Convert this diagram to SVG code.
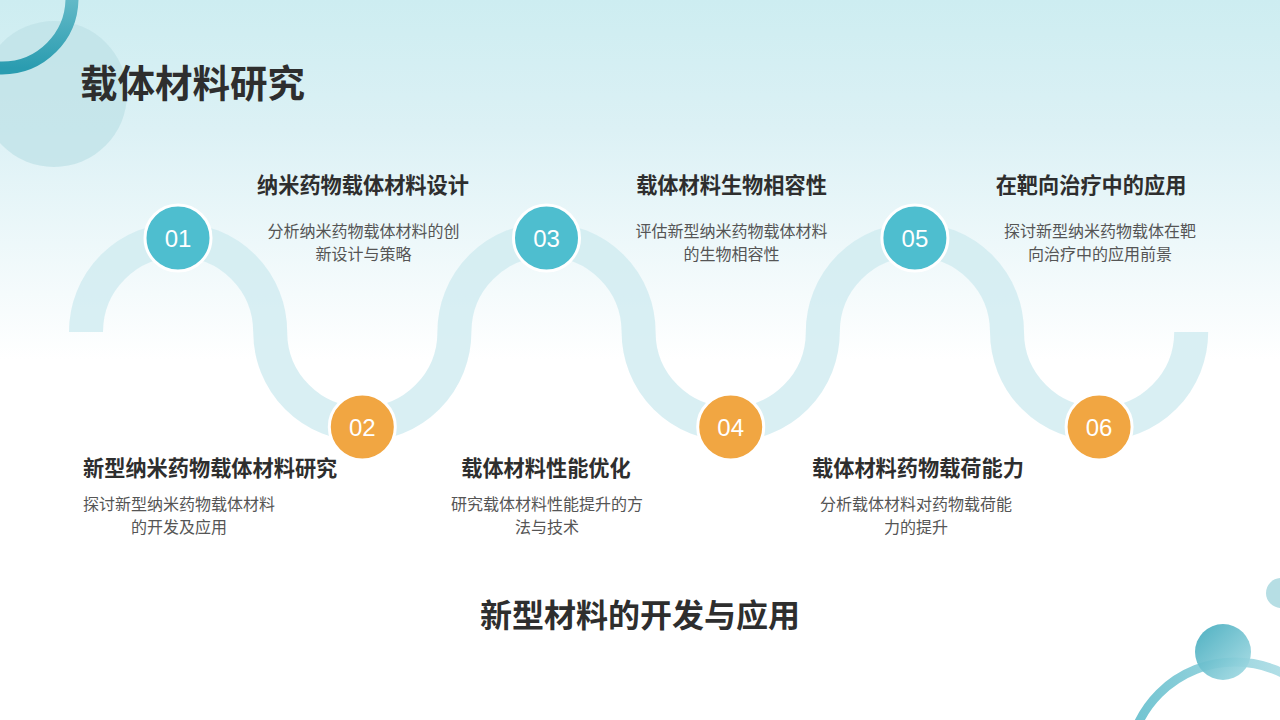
<svg xmlns="http://www.w3.org/2000/svg" width="1280" height="720" viewBox="0 0 1280 720">
  <defs>
    <linearGradient id="bg" x1="0" y1="0" x2="0" y2="1">
      <stop offset="0" stop-color="#cdedf1"/>
      <stop offset="0.18" stop-color="#dcf1f5"/>
      <stop offset="0.5" stop-color="#ffffff"/>
      <stop offset="1" stop-color="#ffffff"/>
    </linearGradient>
    <linearGradient id="ringTL" x1="0" y1="0" x2="0" y2="1">
      <stop offset="0" stop-color="#9fd8e0"/>
      <stop offset="1" stop-color="#2a9cb0"/>
    </linearGradient>
    <linearGradient id="ballBR" x1="0" y1="0" x2="1" y2="1">
      <stop offset="0" stop-color="#3fa9bc"/>
      <stop offset="1" stop-color="#a8dde5"/>
    </linearGradient>
    <linearGradient id="arcBR" x1="0" y1="0" x2="1" y2="0">
      <stop offset="0" stop-color="#5fbccb"/>
      <stop offset="1" stop-color="#c7e8ee"/>
    </linearGradient>
    <style>
      .h { font-family: "Noto Sans CJK SC", "Liberation Sans", sans-serif; font-weight: 700; fill: #2e2e2e; }
      .d { font-family: "Noto Sans CJK SC", "Liberation Sans", sans-serif; font-size: 16px; fill: #555555; text-anchor: middle; }
      .num { font-family: "Liberation Sans", Arial, sans-serif; font-size: 24px; fill: #ffffff; text-anchor: middle; }
      .teal { fill: #4ebecf; stroke: #ffffff; stroke-width: 3; }
      .orange { fill: #f1a642; stroke: #ffffff; stroke-width: 3; }
    </style>
  </defs>

  <rect width="1280" height="720" fill="url(#bg)"/>

  <!-- decorations -->
  <circle cx="54" cy="94" r="73" fill="#bfe2e7" opacity="0.75"/>
  <circle cx="2" cy="-2" r="70" fill="none" stroke="url(#ringTL)" stroke-width="13"/>
  <circle cx="1281" cy="593" r="15" fill="#b6dee4"/>
  <circle cx="1235" cy="769" r="107" fill="none" stroke="url(#arcBR)" stroke-width="9" opacity="0.9"/>
  <circle cx="1223" cy="652" r="28" fill="url(#ballBR)" opacity="0.92"/>

  <!-- connectors: wave -->
  <g id="connectors">
    <path d="M 86 332 A 92.1 92.1 0 0 1 270.2 332 A 92.1 92.1 0 0 0 454.4 332 A 92.1 92.1 0 0 1 638.6 332 A 92.1 92.1 0 0 0 822.8 332 A 92.1 92.1 0 0 1 1007 332 A 92.1 92.1 0 0 0 1191.2 332" fill="none" stroke="#cfebf0" stroke-opacity="0.8" stroke-width="34"/>
  </g>

  <text class="h" x="80" y="97" font-size="37.5">载体材料研究</text>

  <g id="node01">
    <circle class="teal" cx="178" cy="238" r="33"/>
    <text class="num" x="178" y="247">01</text>
    <text class="h" x="363" y="193" font-size="21.2" text-anchor="middle">纳米药物载体材料设计</text>
    <text class="d" x="363.5" y="237">分析纳米药物载体材料的创</text>
    <text class="d" x="363.5" y="260">新设计与策略</text>
  </g>

  <g id="node02">
    <circle class="orange" cx="362.3" cy="427" r="33"/>
    <text class="num" x="362.3" y="436">02</text>
    <text class="h" x="83" y="476" font-size="21.2">新型纳米药物载体材料研究</text>
    <text class="d" x="179" y="510">探讨新型纳米药物载体材料</text>
    <text class="d" x="179" y="533">的开发及应用</text>
  </g>

  <g id="node03">
    <circle class="teal" cx="546.5" cy="238" r="33"/>
    <text class="num" x="546.5" y="247">03</text>
    <text class="h" x="731.5" y="193" font-size="21.2" text-anchor="middle">载体材料生物相容性</text>
    <text class="d" x="731.5" y="237">评估新型纳米药物载体材料</text>
    <text class="d" x="731.5" y="260">的生物相容性</text>
  </g>

  <g id="node04">
    <circle class="orange" cx="730.7" cy="427" r="33"/>
    <text class="num" x="730.7" y="436">04</text>
    <text class="h" x="546" y="476" font-size="21.2" text-anchor="middle">载体材料性能优化</text>
    <text class="d" x="547" y="510">研究载体材料性能提升的方</text>
    <text class="d" x="547" y="533">法与技术</text>
  </g>

  <g id="node05">
    <circle class="teal" cx="914.9" cy="238" r="33"/>
    <text class="num" x="914.9" y="247">05</text>
    <text class="h" x="1091" y="193" font-size="21.2" text-anchor="middle">在靶向治疗中的应用</text>
    <text class="d" x="1100" y="237">探讨新型纳米药物载体在靶</text>
    <text class="d" x="1100" y="260">向治疗中的应用前景</text>
  </g>

  <g id="node06">
    <circle class="orange" cx="1099.1" cy="427" r="33"/>
    <text class="num" x="1099.1" y="436">06</text>
    <text class="h" x="918" y="476" font-size="21.2" text-anchor="middle">载体材料药物载荷能力</text>
    <text class="d" x="916" y="510">分析载体材料对药物载荷能</text>
    <text class="d" x="916" y="533">力的提升</text>
  </g>

  <text class="h" x="640" y="627" font-size="32" text-anchor="middle">新型材料的开发与应用</text>
</svg>
